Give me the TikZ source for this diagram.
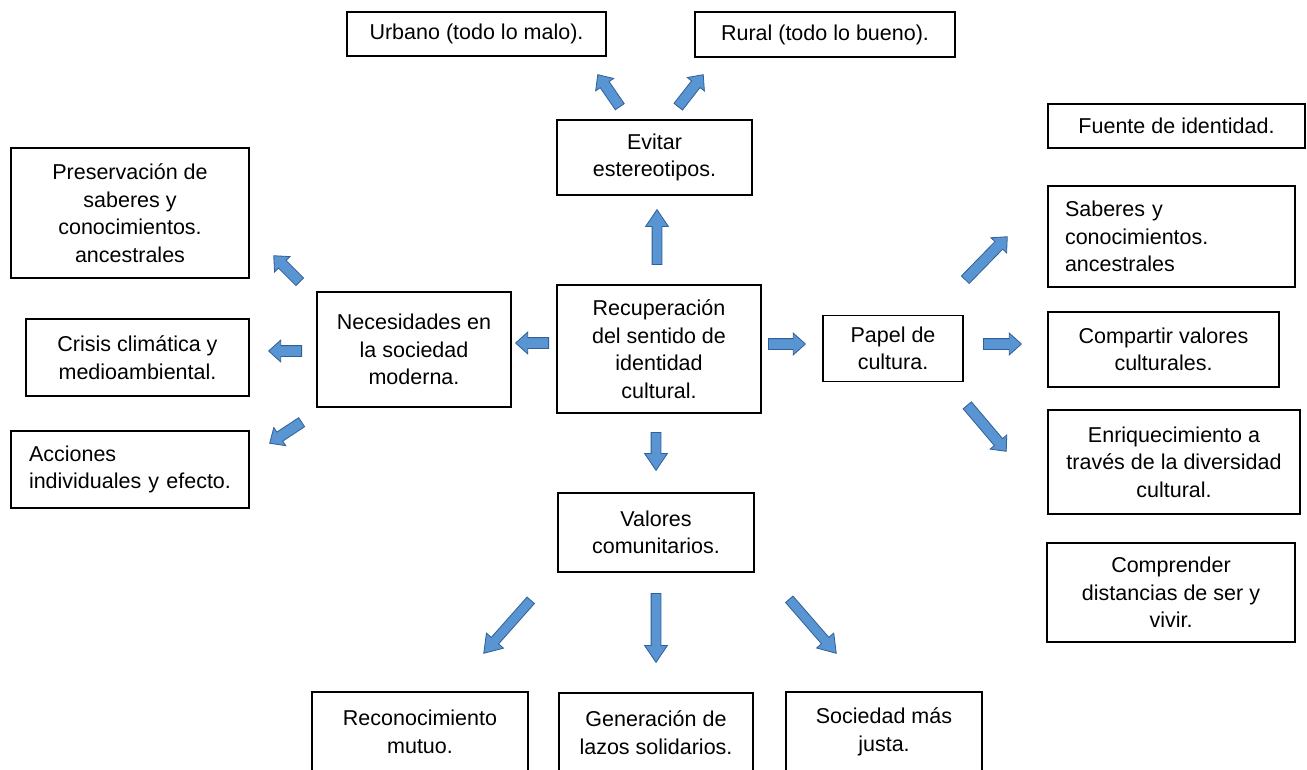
\documentclass[tikz,border=0pt]{standalone}
\usepackage{fontspec}
\setmainfont{Liberation Sans}
\usetikzlibrary{shapes.arrows, calc}
\definecolor{flechaAzul}{RGB}{88,149,210}
\definecolor{flechaBorde}{RGB}{50,95,148}
\tikzset{
    caja/.style={
        rectangle,
        draw=black,
        line width=1.6pt,
        align=center,
        inner sep=0pt,
        fill=white,
        font=\fontsize{21.5}{27.5}\selectfont
    },
    cajaizq/.style={
        caja,
        align=left
    },
    flechanode/.style={
        single arrow,
        draw=flechaBorde,
        fill=flechaAzul,
        line width=0.8pt,
        inner xsep=0pt,
        inner ysep=5pt,
        minimum width=0pt,
        single arrow head extend=5.5pt,
        single arrow tip angle=84
    },
    chica/.style={},
    grande/.style={inner ysep=4.5pt, single arrow head extend=6.5pt, single arrow tip angle=68},
    flecha/.style={to path={
        let \p1=(\tikztostart), \p2=(\tikztotarget),
            \n1={atan2(\y2-\y1,\x2-\x1)}, \n2={veclen(\x2-\x1,\y2-\y1)}
        in node[flechanode, #1, rotate=\n1, minimum height=\n2, anchor=tail] at (\tikztostart) {}
    }},
    flecha/.default=chica
}

\begin{document}
\begin{tikzpicture}[x=1pt, y=-1pt]
    \useasboundingbox (0,0) rectangle (1307,770);
    \fill[white] (0,0) rectangle (1307,770);

    % centro
    \node[caja, minimum width=204, minimum height=128] (rec) at (659,349) {Recuperaci\'on\\del sentido de\\identidad\\cultural.};

    % arriba
    \node[caja, minimum width=195, minimum height=75] (evi) at (654.5,157.5) {Evitar\\estereotipos.};
    \node[caja, minimum width=259, minimum height=44] (urb) at (476.5,34) {Urbano (todo lo malo).};
    \node[caja, minimum width=260, minimum height=45] (rur) at (825,34.5) {Rural (todo lo bueno).};

    % izquierda
    \node[caja, minimum width=194, minimum height=115] (nec) at (414,349.5) {Necesidades en\\la sociedad\\moderna.};
    \node[caja, minimum width=238, minimum height=130] (pres) at (130,213) {Preservaci\'on de\\saberes y\\conocimientos.\\ancestrales};
    \node[caja, minimum width=223, minimum height=77] (cri) at (137.5,357.5) {Crisis clim\'atica y\\medioambiental.};
    \node[cajaizq, text width=202, minimum width=238, minimum height=77] (acc) at (130,469.5) {Acciones\\individuales y efecto.};

    % derecha
    \node[caja, minimum width=140, minimum height=66] (pap) at (893,348.5) {Papel de\\cultura.};
    \node[caja, minimum width=257, minimum height=44] (fue) at (1176.5,126) {Fuente de identidad.};
    \node[cajaizq, text width=213, minimum width=247, minimum height=101] (sab) at (1171.5,236.5) {Saberes y\\conocimientos.\\ancestrales};
    \node[caja, minimum width=231, minimum height=75] (com) at (1163.5,349.5) {Compartir valores\\culturales.};
    \node[caja, minimum width=252, minimum height=104] (enr) at (1174,462) {Enriquecimiento a\\trav\'es de la diversidad\\cultural.};
    \node[caja, minimum width=248, minimum height=99] (cmp) at (1171,592.5) {Comprender\\distancias de ser y\\vivir.};

    % abajo
    \node[caja, minimum width=196, minimum height=79] (val) at (656,532.5) {Valores\\comunitarios.};
    \node[caja, minimum width=216, minimum height=80] (reco) at (420,732) {Reconocimiento\\mutuo.};
    \node[caja, minimum width=194, minimum height=79] (gen) at (656,732.5) {Generaci\'on de\\lazos solidarios.};
    \node[caja, minimum width=196, minimum height=80] (soc) at (884,732) {Sociedad m\'as\\justa.};

    % extremos de las flechas
    \coordinate (t-evi) at (657,265);  \coordinate (h-evi) at (657,210);
    \coordinate (t-urb) at (620,107);  \coordinate (h-urb) at (598,75);
    \coordinate (t-rur) at (678,107);  \coordinate (h-rur) at (703,75);
    \coordinate (t-nec) at (549,343);  \coordinate (h-nec) at (516,343);
    \coordinate (t-pres) at (300,282); \coordinate (h-pres) at (274,256);
    \coordinate (t-cri) at (302,351);  \coordinate (h-cri) at (269,351);
    \coordinate (t-acc) at (302,422);  \coordinate (h-acc) at (270,443);
    \coordinate (t-pap) at (768,344);  \coordinate (h-pap) at (805,344);
    \coordinate (t-sab) at (965,280);  \coordinate (h-sab) at (1007,237);
    \coordinate (t-com) at (983,344);  \coordinate (h-com) at (1021,344);
    \coordinate (t-enr) at (967,405);  \coordinate (h-enr) at (1006,451);
    \coordinate (t-val) at (656,432);  \coordinate (h-val) at (656,470);
    \coordinate (t-reco) at (531,600); \coordinate (h-reco) at (484,653);
    \coordinate (t-gen) at (656,593);  \coordinate (h-gen) at (656,662);
    \coordinate (t-soc) at (789,599);  \coordinate (h-soc) at (836,653);

    \foreach \destino/\talla in {evi/grande, urb/chica, rur/chica, nec/chica, pres/chica, cri/chica,
                                 acc/chica, pap/chica, sab/chica, com/chica, enr/chica, val/grande,
                                 reco/grande, gen/grande, soc/grande}
        \path (t-\destino) to[flecha=\talla] (h-\destino);
\end{tikzpicture}
\end{document}
